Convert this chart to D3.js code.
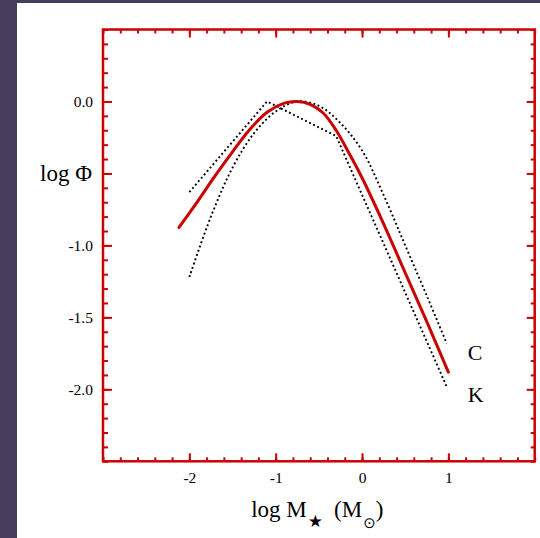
<!DOCTYPE html>
<html>
<head>
<meta charset="utf-8">
<script src="https://cdn.jsdelivr.net/npm/d3@7"></script>
<style>
  body { margin: 0; background: #473c5c; }
  svg { display: block; }
</style>
</head>
<body>
<div id="chart"></div>
<script>
// mass function curves, log M vs log Phi
let redMass = [-2.12, -1.9, -1.7, -1.5, -1.3, -1.1, -0.9, -0.75, -0.6, -0.45, -0.3, -0.15, 0.0, 0.25, 0.5, 0.75, 1.0];
let redPhi  = [-0.875, -0.69, -0.515, -0.35, -0.195, -0.075, -0.012, 0.0, -0.02, -0.08, -0.2, -0.36, -0.53, -0.85, -1.19, -1.53, -1.88];

// "C" dotted curve
let cMass = [-2.0, -1.75, -1.5, -1.25, -1.0, -0.75, -0.5, -0.25, 0.0, 0.25, 0.5, 0.75, 0.98];
let cPhi  = [-1.22, -0.8, -0.46, -0.22, -0.07, 0.0, -0.03, -0.15, -0.34, -0.65, -1.0, -1.35, -1.68];

// "K" dotted broken power law
let kMass = [-2.0, -1.1, -0.3, 0.98];
let kPhi  = [-0.63, 0.0, -0.24, -1.98];

let xMajor = [-2, -1, 0, 1];
let xLabels = ["-2", "-1", "0", "1"];
let yMajor = [0, -0.5, -1, -1.5, -2];
let yLabeled = [0, -1, -1.5, -2];
let yLabels = ["0.0", "-1.0", "-1.5", "-2.0"];

var width = 540, height = 538;
var margin = { top: 29.5, right: 5.3, bottom: 76.7, left: 103 };
var red = '#cc0000';
var serif = '"Liberation Serif", "Times New Roman", serif';

var svg = d3.select('#chart').append('svg')
    .attr('width', width)
    .attr('height', height);

// white sheet over the dark page
svg.append('rect')
    .attr('x', 17).attr('y', 3)
    .attr('width', width - 17).attr('height', height - 3)
    .attr('fill', '#ffffff');

var x = d3.scaleLinear().domain([-3, 2]).range([margin.left, width - margin.right]);
var y = d3.scaleLinear().domain([-2.5, 0.5]).range([height - margin.bottom, margin.top]);

function toPoints(xs, ys){
  return xs.map(function(d, i){ return [d, ys[i]]; });
}

// inward ticks on all four sides
function tickAxis(axis, values, size, pos){
  var g = svg.append('g')
      .attr('transform', pos)
      .call(axis.tickValues(values).tickSize(-size).tickFormat(''));
  g.select('.domain').remove();
  g.selectAll('line').attr('stroke', red).attr('stroke-width', 2);
  return g;
}

var xMinor = x.ticks(25), yMinor = y.ticks(30);
var bottom = 'translate(0,' + y.range()[0] + ')';
var top_ = 'translate(0,' + y.range()[1] + ')';
var left = 'translate(' + x.range()[0] + ',0)';
var right = 'translate(' + x.range()[1] + ',0)';

tickAxis(d3.axisBottom(x), xMinor, 4, bottom);
tickAxis(d3.axisBottom(x), xMajor, 8, bottom);
tickAxis(d3.axisTop(x), xMinor, 4, top_);
tickAxis(d3.axisTop(x), xMajor, 8, top_);
tickAxis(d3.axisLeft(y), yMinor, 5, left);
tickAxis(d3.axisLeft(y), yMajor, 9, left);
tickAxis(d3.axisRight(y), yMinor, 4, right);
tickAxis(d3.axisRight(y), yMajor, 8, right);

// tick labels
var xl = svg.append('g')
    .attr('transform', bottom)
    .call(d3.axisBottom(x).tickValues(xMajor).tickSize(0).tickPadding(11)
      .tickFormat(function(d, i){ return xLabels[i]; }));
xl.select('.domain').remove();
xl.selectAll('text').attr('font-family', serif).attr('font-size', 15.5).attr('fill', '#000');

var yl = svg.append('g')
    .attr('transform', left)
    .call(d3.axisLeft(y).tickValues(yLabeled).tickSize(0).tickPadding(10)
      .tickFormat(function(d, i){ return yLabels[i]; }));
yl.select('.domain').remove();
yl.selectAll('text').attr('font-family', serif).attr('font-size', 15.5).attr('fill', '#000');

// frame
svg.append('rect')
    .attr('x', x.range()[0]).attr('y', y.range()[1])
    .attr('width', x.range()[1] - x.range()[0])
    .attr('height', y.range()[0] - y.range()[1])
    .attr('fill', 'none')
    .attr('stroke', red)
    .attr('stroke-width', 2.5);

var line = d3.line()
    .x(function(d){ return x(d[0]); })
    .y(function(d){ return y(d[1]); });

svg.append('path')
    .datum(toPoints(cMass, cPhi))
    .attr('d', line.curve(d3.curveCatmullRom))
    .attr('fill', 'none')
    .attr('stroke', '#000')
    .attr('stroke-width', 1.9)
    .attr('stroke-dasharray', '1.9,2.6');

svg.append('path')
    .datum(toPoints(kMass, kPhi))
    .attr('d', line.curve(d3.curveLinear))
    .attr('fill', 'none')
    .attr('stroke', '#000')
    .attr('stroke-width', 1.9)
    .attr('stroke-dasharray', '1.9,2.6');

svg.append('path')
    .datum(toPoints(redMass, redPhi))
    .attr('d', line.curve(d3.curveCatmullRom))
    .attr('fill', 'none')
    .attr('stroke', red)
    .attr('stroke-width', 3)
    .attr('stroke-linecap', 'round');

// curve names next to their ends
svg.append('text')
    .attr('x', x(cMass[cMass.length - 1]) + 21)
    .attr('y', y(cPhi[cPhi.length - 1]) + 17)
    .attr('font-family', serif).attr('font-size', 22)
    .text('C');
svg.append('text')
    .attr('x', x(kMass[kMass.length - 1]) + 21)
    .attr('y', y(kPhi[kPhi.length - 1]) + 16)
    .attr('font-family', serif).attr('font-size', 22)
    .text('K');

// axis titles
svg.append('text')
    .attr('x', 92).attr('y', 181)
    .attr('text-anchor', 'end')
    .attr('font-family', serif).attr('font-size', 23)
    .text('log \u03A6');

var xt = svg.append('text')
    .attr('x', (x.range()[0] + x.range()[1]) / 2 - 1.5)
    .attr('y', 517)
    .attr('text-anchor', 'middle')
    .attr('font-family', serif).attr('font-size', 23);
xt.append('tspan').text('log M');
xt.append('tspan').attr('font-family', '"DejaVu Sans"').attr('font-size', 17)
    .attr('dx', 1).attr('dy', 10).text('\u2605');
xt.append('tspan').attr('dx', 11).attr('dy', -10).text('(M');
xt.append('tspan').attr('font-family', '"DejaVu Sans"').attr('font-size', 15)
    .attr('dx', 1).attr('dy', 11).text('\u2299');
xt.append('tspan').attr('dx', 0).attr('dy', -11).text(')');
</script>
</body>
</html>
